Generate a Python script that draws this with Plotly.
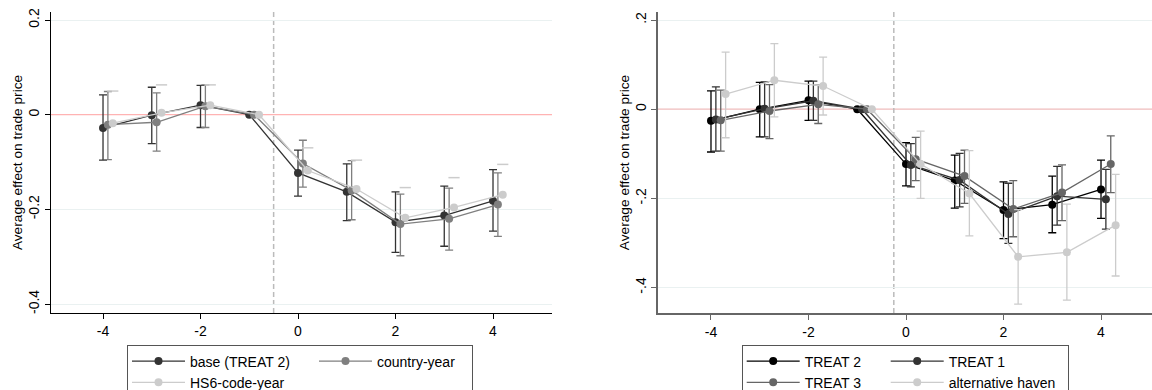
import plotly.graph_objects as go

# ---------------- data ----------------
periods = [-4, -3, -2, -1, 0, 1, 2, 3, 4]
x_tick_vals = [-4, -2, 0, 2, 4]
x_tick_text = ["-4", "-2", "0", "2", "4"]
y_tick_vals = [0.2, 0, -0.2, -0.4]
y_grid_vals = [0.2, -0.2, -0.4]
y_tick_text_left = ["0.2", "0", "-0.2", "-0.4"]
y_tick_text_right = [".2", "0", "-.2", "-.4"]
y_title = "Average effect on trade price"

# left panel
base_est = [-0.028, -0.001, 0.020, 0.0, -0.123, -0.163, -0.227, -0.213, -0.182]
base_lo = [-0.096, -0.061, -0.027, None, -0.172, -0.224, -0.291, -0.278, -0.246]
base_hi = [0.042, 0.058, 0.062, None, -0.075, -0.104, -0.163, -0.151, -0.116]

cy_est = [-0.021, -0.016, 0.018, 0.0, -0.103, -0.160, -0.231, -0.220, -0.190]
cy_lo = [-0.095, -0.077, -0.027, None, -0.153, -0.222, -0.298, -0.286, -0.257]
cy_hi = [0.049, 0.046, 0.063, None, -0.054, -0.097, -0.168, -0.155, -0.123]

hs6_est = [-0.018, 0.004, 0.020, 0.0, -0.118, -0.157, -0.218, -0.196, -0.169]
hs6_hi = [0.050, 0.063, 0.063, None, -0.070, -0.096, -0.154, -0.133, -0.105]

# right panel
t2_est = [-0.026, 0.0, 0.020, 0.0, -0.123, -0.160, -0.226, -0.214, -0.180]
t2_lo = [-0.096, -0.062, -0.025, None, -0.172, -0.222, -0.290, -0.277, -0.245]
t2_hi = [0.041, 0.060, 0.063, None, -0.075, -0.103, -0.163, -0.150, -0.114]

t1_est = [-0.023, 0.001, 0.019, 0.0, -0.125, -0.159, -0.235, -0.195, -0.202]
t1_lo = [-0.094, -0.062, -0.025, None, -0.174, -0.219, -0.301, -0.260, -0.269]
t1_hi = [0.050, 0.061, 0.063, None, -0.077, -0.099, -0.166, -0.128, -0.135]

t3_est = [-0.025, -0.004, 0.011, 0.0, -0.112, -0.150, -0.224, -0.187, -0.123]
t3_lo = [-0.094, -0.066, -0.032, None, -0.160, -0.211, -0.286, -0.250, -0.187]
t3_hi = [0.043, 0.055, 0.054, None, -0.063, -0.092, -0.160, -0.125, -0.060]

alt_est = [0.034, 0.065, 0.052, 0.0, -0.123, -0.189, -0.331, -0.321, -0.260]
alt_lo = [-0.064, -0.017, -0.013, None, -0.200, -0.284, -0.437, -0.428, -0.374]
alt_hi = [0.128, 0.147, 0.117, None, -0.049, -0.093, -0.225, -0.213, -0.146]

event_line_left = -0.5
event_line_right = -0.25
zero_ref = 0.0

# ---------------- helpers ----------------
FONT = "Liberation Sans, Arial, Helvetica, sans-serif"


def shifted(vals, off):
    return [v + off for v in vals]


def err_plus(est, hi):
    return [None if h is None else h - e for e, h in zip(est, hi)]


def err_minus(est, lo):
    return [None if l is None else e - l for e, l in zip(est, lo)]


def series(name, est, lo, hi, off, color, xa, ya, legend, group, lwidth, lw=1.3):
    tr = go.Scatter(
        x=shifted(periods, off), y=est, name=name, mode="lines+markers",
        xaxis=xa, yaxis=ya, legend=legend, legendgroup=group, legendwidth=lwidth,
        line=dict(color=color, width=lw),
        marker=dict(color=color, size=8),
    )
    if lo is not None:
        tr.error_y = dict(type="data", symmetric=False,
                          array=err_plus(est, hi), arrayminus=err_minus(est, lo),
                          color=color, thickness=1.3, width=4)
    return tr


fig = go.Figure()

# left panel traces
fig.add_trace(series("base (TREAT 2)", base_est, base_lo, base_hi, 0.0, "#333333",
                     "x", "y", "legend", "a", 119))
fig.add_trace(series("country-year", cy_est, cy_lo, cy_hi, 0.1, "#7f7f7f",
                     "x", "y", "legend", "b", 90))
fig.add_trace(series("HS6-code-year", hs6_est, None, None, 0.2, "#cccccc",
                     "x", "y", "legend", "a", 119))
fig.add_trace(go.Scatter(
    x=shifted(periods, 0.2), y=hs6_hi, mode="markers", showlegend=False,
    xaxis="x", yaxis="y", hoverinfo="skip",
    marker=dict(symbol="line-ew", size=8, color="#cccccc",
                line=dict(color="#cccccc", width=1.5)),
))

# right panel traces
fig.add_trace(series("TREAT 2", t2_est, t2_lo, t2_hi, 0.0, "#000000",
                     "x2", "y2", "legend2", "c", 76))
fig.add_trace(series("TREAT 1", t1_est, t1_lo, t1_hi, 0.1, "#333333",
                     "x2", "y2", "legend2", "d", 114))
fig.add_trace(series("TREAT 3", t3_est, t3_lo, t3_hi, 0.2, "#666666",
                     "x2", "y2", "legend2", "c", 76))
fig.add_trace(series("alternative haven", alt_est, alt_lo, alt_hi, 0.3, "#cccccc",
                     "x2", "y2", "legend2", "d", 114))

W, H = 1152, 390
yd = [(H - 313) / H, (H - 12) / H]

common_x = dict(
    tickmode="array", tickvals=x_tick_vals, ticktext=x_tick_text,
    showgrid=False, zeroline=False, showline=True, ticks="outside", ticklen=5,
    tickfont=dict(size=14, color="#000"),
)
common_y = dict(
    tickmode="array", tickvals=y_tick_vals,
    showgrid=False,
    minor=dict(tickmode="array", tickvals=y_grid_vals, showgrid=True,
               gridcolor="#eaf1f1", gridwidth=1, ticks=""),
    zeroline=False,
    showline=True, ticks="outside", ticklen=5, tickangle=-90,
    tickfont=dict(size=14, color="#000"),
    title=dict(text=y_title, font=dict(size=13.7, color="#000"), standoff=0),
)

legend_common = dict(orientation="h", traceorder="grouped", xanchor="left", yanchor="top",
                     bordercolor="#555", borderwidth=1, bgcolor="white",
                     font=dict(size=14, color="#000"), itemwidth=53, tracegroupgap=0)

fig.update_layout(
    width=W, height=H,
    margin=dict(l=0, r=0, t=0, b=0, autoexpand=False),
    paper_bgcolor="white", plot_bgcolor="white",
    font=dict(family=FONT, color="#000"),
    xaxis=dict(domain=[51 / W, 552 / W], range=[-5.067, 5.21], anchor="y",
               linecolor="#000", linewidth=1, tickcolor="#000", **common_x),
    yaxis=dict(domain=yd, range=[-0.419, 0.217], anchor="x",
               ticktext=y_tick_text_left,
               linecolor="#000", linewidth=1, tickcolor="#000", **common_y),
    xaxis2=dict(domain=[658 / W, 1.0], range=[-5.087, 5.046], anchor="y2",
                linecolor="#666", linewidth=1.5, tickcolor="#666", **common_x),
    yaxis2=dict(domain=yd, range=[-0.457, 0.218], anchor="x2",
                ticktext=y_tick_text_right,
                linecolor="#666", linewidth=1.5, tickcolor="#666", **common_y),
    legend=dict(x=127 / W, y=(H - 344.5) / H, **legend_common),
    legend2=dict(x=741.7 / W, y=(H - 344.5) / H, **legend_common),
    shapes=[
        dict(type="line", xref="x domain", yref="y", x0=0, x1=1, y0=zero_ref, y1=zero_ref,
             line=dict(color="#ffb3b3", width=1.2), layer="below"),
        dict(type="line", xref="x2 domain", yref="y2", x0=0, x1=1, y0=zero_ref, y1=zero_ref,
             line=dict(color="#efbcbc", width=1.2), layer="below"),
        dict(type="line", xref="x", yref="y domain", x0=event_line_left, x1=event_line_left,
             y0=0, y1=1, line=dict(color="#bbbbbb", width=1.5, dash="5px,3px"), layer="below"),
        dict(type="line", xref="x2", yref="y2 domain", x0=event_line_right, x1=event_line_right,
             y0=0, y1=1, line=dict(color="#bbbbbb", width=1.5, dash="5px,3px"), layer="below"),
    ],
)

fig.write_html("out.html")
